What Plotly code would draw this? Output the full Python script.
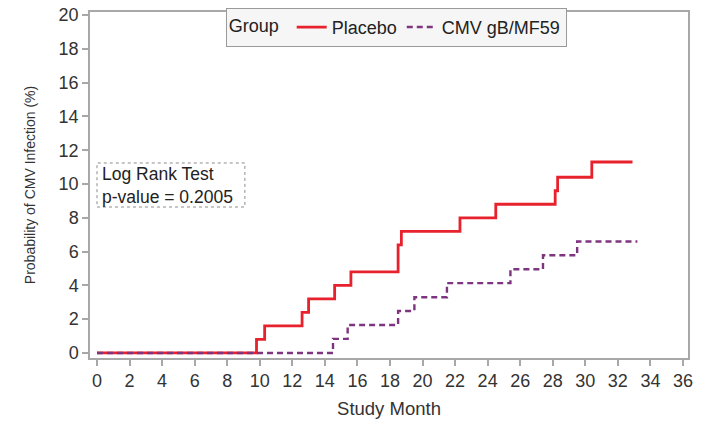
import plotly.graph_objects as go

# Kaplan-Meier style cumulative incidence (%) by study month
placebo_month = [0, 9.8, 10.3, 12.6, 13.0, 14.6, 15.6, 18.5, 18.7, 22.3, 24.5, 28.15, 28.3, 30.4, 32.9]
placebo_pct = [0, 0.8, 1.6, 2.4, 3.2, 4.0, 4.8, 6.4, 7.2, 8.0, 8.8, 9.6, 10.4, 11.3, 11.3]

vaccine_month = [0, 14.5, 15.4, 18.5, 19.5, 21.5, 25.4, 27.4, 29.5, 33.2]
vaccine_pct = [0, 0.83, 1.65, 2.48, 3.3, 4.13, 4.95, 5.78, 6.6, 6.6]

x_ticks = list(range(0, 37, 2))
y_ticks = list(range(0, 21, 2))

FONT = "Liberation Sans, Arial, sans-serif"
AXIS_GRAY = "#a8a8a8"
TEXT = "#333333"

fig = go.Figure()
fig.add_trace(go.Scatter(
    x=placebo_month, y=placebo_pct, mode="lines", name="Placebo",
    line=dict(color="#e8222c", width=2.8, shape="hv"),
))
fig.add_trace(go.Scatter(
    x=vaccine_month, y=vaccine_pct, mode="lines", name="CMV gB/MF59",
    line=dict(color="#7e3580", width=2.4, shape="hv", dash="6px,4px"),
))

# Log rank test box
fig.add_shape(type="rect", xref="paper", yref="paper",
              x0=0.0117, x1=0.259, y0=0.4364, y1=0.5636,
              line=dict(color="#8c8c8c", width=1, dash="dot"),
              fillcolor="rgba(255,255,255,0)")
fig.add_annotation(xref="paper", yref="paper", x=0.016, y=0.5,
                   xanchor="left", yanchor="middle", align="left", showarrow=False,
                   text="Log Rank Test<br>p-value = 0.2005",
                   font=dict(family=FONT, size=17.5, color="#222222"))

fig.update_layout(
    width=704, height=423,
    margin=dict(l=90, r=16, t=12, b=65, autoexpand=False),
    paper_bgcolor="white", plot_bgcolor="white",
    font=dict(family=FONT, size=18, color=TEXT),
    showlegend=True,
    legend=dict(
        orientation="h", x=0.512, xanchor="center", y=1.012, yanchor="top",
        title=dict(text="Group ", side="left", font=dict(family=FONT, size=18, color="#222222")),
        font=dict(family=FONT, size=18, color="#222222"),
        bgcolor="#f6f6f6", bordercolor="#9a9a9a", borderwidth=1,
        itemwidth=30, tracegroupgap=0,
    ),
    xaxis=dict(
        range=[-0.43, 36.31], tickvals=x_ticks, ticktext=[str(v) for v in x_ticks],
        showgrid=False, zeroline=False, showline=True, mirror=True,
        linecolor=AXIS_GRAY, linewidth=1.5,
        ticks="outside", ticklen=6, tickcolor=AXIS_GRAY, tickwidth=1.5,
        tickfont=dict(family=FONT, size=18, color=TEXT),
        title=dict(text="Study Month", font=dict(family=FONT, size=18.5, color=TEXT), standoff=12),
    ),
    yaxis=dict(
        range=[-0.30, 20.18], tickvals=y_ticks, ticktext=[str(v) for v in y_ticks],
        showgrid=False, zeroline=False, showline=True, mirror=True,
        linecolor=AXIS_GRAY, linewidth=1.5,
        ticks="outside", ticklen=6, tickcolor=AXIS_GRAY, tickwidth=1.5,
        tickfont=dict(family=FONT, size=18, color=TEXT),
        title=dict(text="Probability of CMV Infection (%)",
                   font=dict(family=FONT, size=14, color=TEXT), standoff=20),
    ),
)

fig.write_html("out.html")
